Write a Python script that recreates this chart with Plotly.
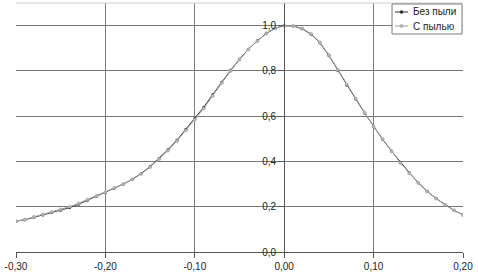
import plotly.graph_objects as go

x_vals = [round(-0.30 + 0.01 * i, 2) for i in range(51)]

y_dust = [0.137, 0.143, 0.155, 0.166, 0.177, 0.188, 0.200, 0.215, 0.232, 0.248,
          0.263, 0.283, 0.300, 0.320, 0.345, 0.375, 0.410, 0.448, 0.490, 0.537,
          0.585, 0.634, 0.690, 0.746, 0.800, 0.850, 0.895, 0.932, 0.965, 0.988,
          1.000, 0.999, 0.988, 0.964, 0.926, 0.870, 0.805, 0.740, 0.678, 0.616,
          0.554, 0.499, 0.444, 0.393, 0.348, 0.305, 0.267, 0.236, 0.208, 0.184,
          0.164]

y_clean = [0.136, 0.142, 0.153, 0.163, 0.174, 0.184, 0.196, 0.211, 0.229, 0.246,
           0.262, 0.282, 0.300, 0.321, 0.347, 0.378, 0.413, 0.452, 0.494, 0.542,
           0.590, 0.640, 0.695, 0.750, 0.803, 0.852, 0.896, 0.933, 0.966, 0.989,
           1.000, 0.998, 0.986, 0.962, 0.924, 0.868, 0.802, 0.737, 0.676, 0.614,
           0.553, 0.498, 0.446, 0.396, 0.350, 0.306, 0.268, 0.236, 0.208, 0.184,
           0.164]

x_ticks = [-0.30, -0.20, -0.10, 0.00, 0.10, 0.20]
x_tick_labels = ["-0,30", "-0,20", "-0,10", "0,00", "0,10", "0,20"]
y_ticks = [0.0, 0.2, 0.4, 0.6, 0.8, 1.0]
y_tick_labels = ["0,0", "0,2", "0,4", "0,6", "0,8", "1,0"]

series_names = ["Без пыли", "С пылью"]
series_line_colors = ["#333333", "#a0a0a0"]
series_marker_colors = ["#222222", "#b5b5b5"]

fig = go.Figure()
fig.add_trace(go.Scatter(
    x=x_vals, y=y_clean, name=series_names[0], mode="lines+markers",
    line=dict(color=series_line_colors[0], width=1),
    marker=dict(symbol="circle", size=3, color=series_marker_colors[0]),
    showlegend=False,
))
fig.add_trace(go.Scatter(
    x=x_vals, y=y_dust, name=series_names[1], mode="lines+markers",
    line=dict(color=series_line_colors[1], width=1),
    marker=dict(symbol="circle", size=3.2, color=series_marker_colors[1],
                line=dict(color="#a5a5a5", width=0.5)),
    showlegend=False,
))

FONT_FAMILY = "Liberation Sans, Arial, sans-serif"
font = dict(family=FONT_FAMILY, size=10, color="#222222")

# Manual legend (paper coordinates)
lx0, lx1, ly0, ly1 = 0.8412, 0.9978, 0.8755, 0.996
row_y = [0.9639, 0.9076]
seg_x0, seg_x1, mark_x, text_x = 0.8479, 0.8770, 0.8624, 0.8837

shapes = [
    dict(type="line", xref="paper", yref="paper", x0=0, x1=1, y0=1, y1=1,
         line=dict(color="#cccccc", width=1)),
    dict(type="rect", xref="paper", yref="paper", x0=lx0, x1=lx1, y0=ly0, y1=ly1,
         line=dict(color="#777777", width=1), fillcolor="white", layer="above"),
]
annotations = []
for i, name in enumerate(series_names):
    shapes.append(dict(type="line", xref="paper", yref="paper",
                       x0=seg_x0, x1=seg_x1, y0=row_y[i], y1=row_y[i],
                       line=dict(color=series_line_colors[i], width=1), layer="above"))
    r = 1.5 if i == 0 else 1.6
    shapes.append(dict(type="circle", xref="paper", yref="paper",
                       xsizemode="pixel", ysizemode="pixel",
                       xanchor=mark_x, yanchor=row_y[i],
                       x0=-r, x1=r, y0=-r, y1=r,
                       fillcolor=series_marker_colors[i],
                       line=dict(color=series_line_colors[i], width=0.5), layer="above"))
    annotations.append(dict(xref="paper", yref="paper", x=text_x, y=row_y[i],
                            xanchor="left", yanchor="middle", showarrow=False,
                            text=name, font=dict(family=FONT_FAMILY, size=10, color="#222222")))

fig.update_layout(
    width=478, height=278,
    margin=dict(l=16, r=15, t=3, b=26),
    paper_bgcolor="white", plot_bgcolor="white",
    font=font,
    showlegend=False,
    xaxis=dict(range=[-0.30, 0.20], tickvals=x_ticks, ticktext=x_tick_labels,
               showgrid=True, gridcolor="#808080", gridwidth=1,
               zeroline=False, showline=True, linecolor="#555555", linewidth=1,
               ticks="outside", ticklen=5, tickcolor="#555555",
               tickfont=font, fixedrange=True),
    yaxis=dict(range=[0, 1.1], tickvals=y_ticks, ticktext=y_tick_labels,
               showgrid=True, gridcolor="#777777", gridwidth=1,
               zeroline=False, showline=True, linecolor="#555555", linewidth=1,
               ticks="outside", ticklen=6, tickcolor="#555555",
               anchor="free", position=0.6, tickfont=font, fixedrange=True),
    shapes=shapes,
    annotations=annotations,
)

fig.write_html("out.html", config={"displayModeBar": False, "staticPlot": True})
with open("out.html", "r", encoding="utf-8") as f:
    html = f.read()
html = html.replace("<head>", "<head><style>html,body{margin:0;padding:0;overflow:hidden;}</style>", 1)
with open("out.html", "w", encoding="utf-8") as f:
    f.write(html)
